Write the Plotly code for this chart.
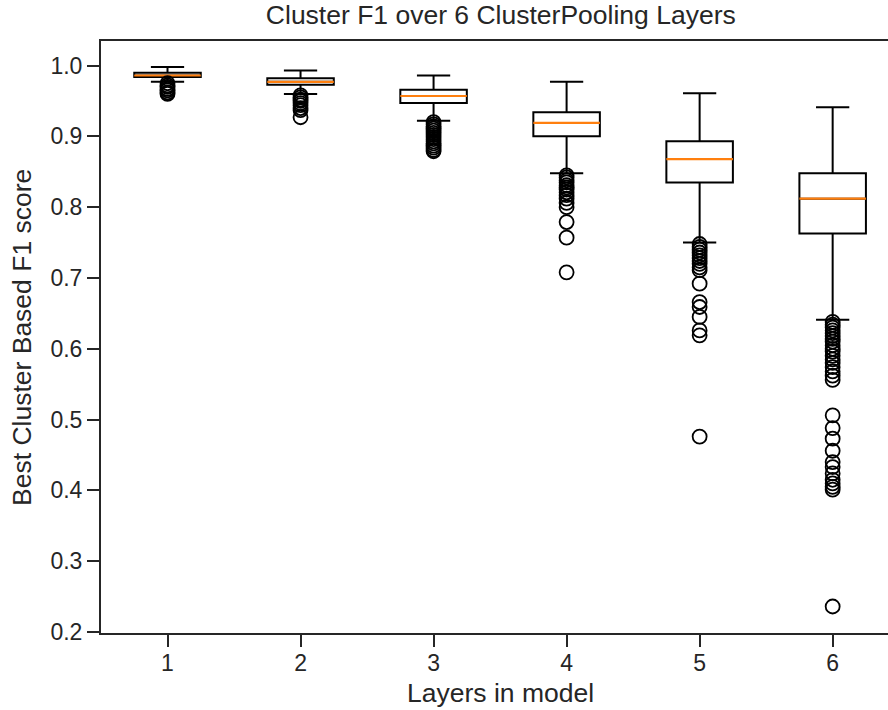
import plotly.graph_objects as go

# Box statistics per number of ClusterPooling layers
layers = [1, 2, 3, 4, 5, 6]
q1 = [0.984, 0.973, 0.947, 0.900, 0.835, 0.763]
median = [0.986, 0.977, 0.957, 0.919, 0.868, 0.812]
q3 = [0.990, 0.982, 0.966, 0.934, 0.893, 0.848]
lower_whisker = [0.977, 0.960, 0.922, 0.848, 0.750, 0.641]
upper_whisker = [0.998, 0.993, 0.986, 0.977, 0.961, 0.941]

# Fliers beyond the whiskers
outliers_1 = [0.975, 0.972, 0.970, 0.967, 0.965, 0.962, 0.960]
outliers_2 = [0.958, 0.955, 0.952, 0.950, 0.947, 0.944, 0.940, 0.937, 0.927]
outliers_3 = [0.920, 0.917, 0.914, 0.911, 0.908, 0.905, 0.902, 0.899, 0.896,
              0.893, 0.890, 0.887, 0.884, 0.881, 0.879]
outliers_4 = [0.845, 0.842, 0.838, 0.835, 0.831, 0.828, 0.825, 0.821, 0.817,
              0.812, 0.806, 0.800, 0.779, 0.757, 0.708]
outliers_5 = [0.748, 0.744, 0.740, 0.736, 0.732, 0.728, 0.724, 0.720, 0.715,
              0.711, 0.692, 0.666, 0.659, 0.645, 0.626, 0.619, 0.476]
outliers_6 = [0.638, 0.634, 0.630, 0.626, 0.622, 0.618, 0.614, 0.610, 0.605,
              0.600, 0.596, 0.590, 0.585, 0.580, 0.574, 0.568, 0.562, 0.556,
              0.506, 0.488, 0.473, 0.456, 0.440, 0.433, 0.424, 0.415, 0.410,
              0.405, 0.401, 0.236]
outliers = [outliers_1, outliers_2, outliers_3, outliers_4, outliers_5, outliers_6]

title = "Cluster F1 over 6 ClusterPooling Layers"
x_title = "Layers in model"
y_title = "Best Cluster Based F1 score"

BOX_WIDTH = 0.5
INK = "#262626"
FONT = "Liberation Sans, Arial, sans-serif"
FS_TICK = 23
FS_LABEL = 26.5

fig = go.Figure()

fig.add_trace(go.Box(
    x=layers, q1=q1, median=median, q3=q3,
    lowerfence=lower_whisker, upperfence=upper_whisker,
    width=BOX_WIDTH, whiskerwidth=0.5,
    line=dict(color="black", width=2), fillcolor="white",
    boxpoints=False, showlegend=False, hoverinfo="skip",
))

# Orange median segments spanning each box
mx, my = [], []
for lay, m in zip(layers, median):
    mx += [lay - BOX_WIDTH / 2, lay + BOX_WIDTH / 2, None]
    my += [m, m, None]
fig.add_trace(go.Scatter(x=mx, y=my, mode="lines",
                         line=dict(color="#ff7f0e", width=2.2),
                         showlegend=False, hoverinfo="skip"))

# Fliers as open circles
ox, oy = [], []
for lay, vals in zip(layers, outliers):
    ox += [lay] * len(vals)
    oy += vals
fig.add_trace(go.Scatter(x=ox, y=oy, mode="markers",
                         marker=dict(symbol="circle-open", size=14,
                                     color="black", line=dict(width=1.8)),
                         showlegend=False, hoverinfo="skip"))

axis_common = dict(showgrid=False, zeroline=False, showline=True,
                   linecolor=INK, linewidth=2, ticks="outside", ticklen=12,
                   tickwidth=2, tickcolor=INK,
                   tickfont=dict(family=FONT, size=FS_TICK, color=INK))

fig.update_layout(
    width=888, height=710,
    margin=dict(l=101, r=0, t=41, b=77),
    paper_bgcolor="white", plot_bgcolor="white",
    font=dict(family=FONT, size=FS_LABEL, color=INK),
    xaxis=dict(range=[0.5, 6.416], tickvals=layers, mirror=True,
               ticklabelstandoff=-4, **axis_common),
    yaxis=dict(range=[0.1986, 1.0347], tick0=0.2, dtick=0.1, tickformat=".1f",
               mirror=False, **axis_common),
    title=dict(text=title, x=0.508, xref="paper", xanchor="center",
               y=1 - 15 / 710, yref="container", yanchor="middle",
               font=dict(family=FONT, size=FS_LABEL, color=INK)),
    annotations=[
        dict(text=x_title, xref="paper", yref="paper", x=0.508, y=-0.101,
             xanchor="center", yanchor="middle", showarrow=False,
             font=dict(family=FONT, size=FS_LABEL, color=INK)),
        dict(text=y_title, xref="paper", yref="paper", x=-0.1004, y=0.5,
             xanchor="center", yanchor="middle", showarrow=False, textangle=-90,
             font=dict(family=FONT, size=FS_LABEL, color=INK)),
    ],
)

fig.write_html("out.html")
